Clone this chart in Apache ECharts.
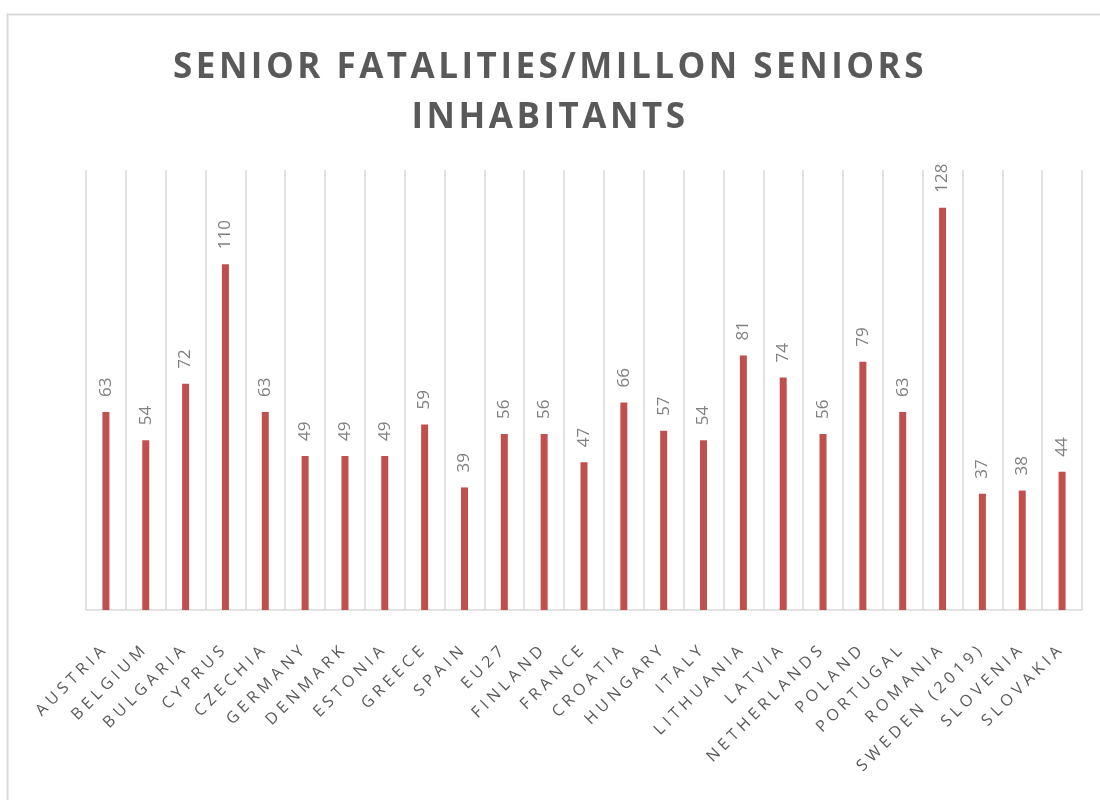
<!DOCTYPE html>
<html>
<head>
<meta charset="utf-8">
<script src="https://cdn.jsdelivr.net/npm/echarts@6/dist/echarts.min.js"></script>
<style>html,body{margin:0;padding:0;background:#fff;}#c{width:1100px;height:800px;}</style>
</head>
<body>
<div id="c"></div>
<script>
const categories = ["AUSTRIA","BELGIUM","BULGARIA","CYPRUS","CZECHIA","GERMANY","DENMARK","ESTONIA","GREECE","SPAIN","EU27","FINLAND","FRANCE","CROATIA","HUNGARY","ITALY","LITHUANIA","LATVIA","NETHERLANDS","POLAND","PORTUGAL","ROMANIA","SWEDEN (2019)","SLOVENIA","SLOVAKIA"];
const values = [63,54,72,110,63,49,49,49,59,39,56,56,47,66,57,54,81,74,56,79,63,128,37,38,44];
const titleText = "SENIOR FATALITIES/MILLON SENIORS\nINHABITANTS";

// letter spacing per font size (title / axis labels / value labels)
const spacingBySize = { 35: '3.5px', 16: '4.5px', 17: '0px' };
const proto = CanvasRenderingContext2D.prototype;
if ('letterSpacing' in proto) {
  const origFill = proto.fillText;
  proto.fillText = function (t, x, y, w) {
    const m = /(\d+(?:\.\d+)?)px/.exec(this.font);
    const sz = m ? Math.round(parseFloat(m[1])) : 0;
    const prev = this.letterSpacing;
    this.letterSpacing = spacingBySize[sz] || '0px';
    const r = (w === undefined) ? origFill.call(this, t, x, y) : origFill.call(this, t, x, y, w);
    this.letterSpacing = prev;
    return r;
  };
}

const chart = echarts.init(document.getElementById('c'), null, { renderer: 'canvas', devicePixelRatio: 1 });
chart.setOption({
  animation: false,
  backgroundColor: '#fff',
  graphic: [{
    type: 'rect', left: 5, top: 12,
    shape: { width: 1100, height: 800 },
    style: { fill: 'none', stroke: '#d9d9d9', lineWidth: 2 },
    silent: true
  }],
  title: {
    text: titleText,
    left: 'center', top: 38,
    textStyle: { fontFamily: 'Open Sans', fontWeight: 'bold', fontSize: 35, color: '#595959', lineHeight: 50 }
  },
  grid: { left: 86, right: 18, top: 170, bottom: 190 },
  xAxis: {
    type: 'category', data: categories, boundaryGap: true,
    axisLine: { show: true, lineStyle: { color: '#d9d9d9', width: 1.5 } },
    axisTick: { show: false },
    splitLine: { show: true, interval: 0, lineStyle: { color: '#d9d9d9', width: 1.5 } },
    axisLabel: { interval: 0, rotate: 45, margin: 36, fontFamily: 'Open Sans', fontSize: 16, color: '#595959' }
  },
  yAxis: {
    type: 'value', min: 0, max: 140, show: false,
    splitLine: { show: false }
  },
  series: [{
    type: 'bar', data: values, barWidth: 7,
    itemStyle: { color: '#C0504D' },
    label: { show: true, position: 'top', rotate: 90, align: 'left', verticalAlign: 'middle', distance: 15,
      fontFamily: 'Open Sans', fontSize: 17, color: '#808080' }
  }]
});
</script>
</body>
</html>
